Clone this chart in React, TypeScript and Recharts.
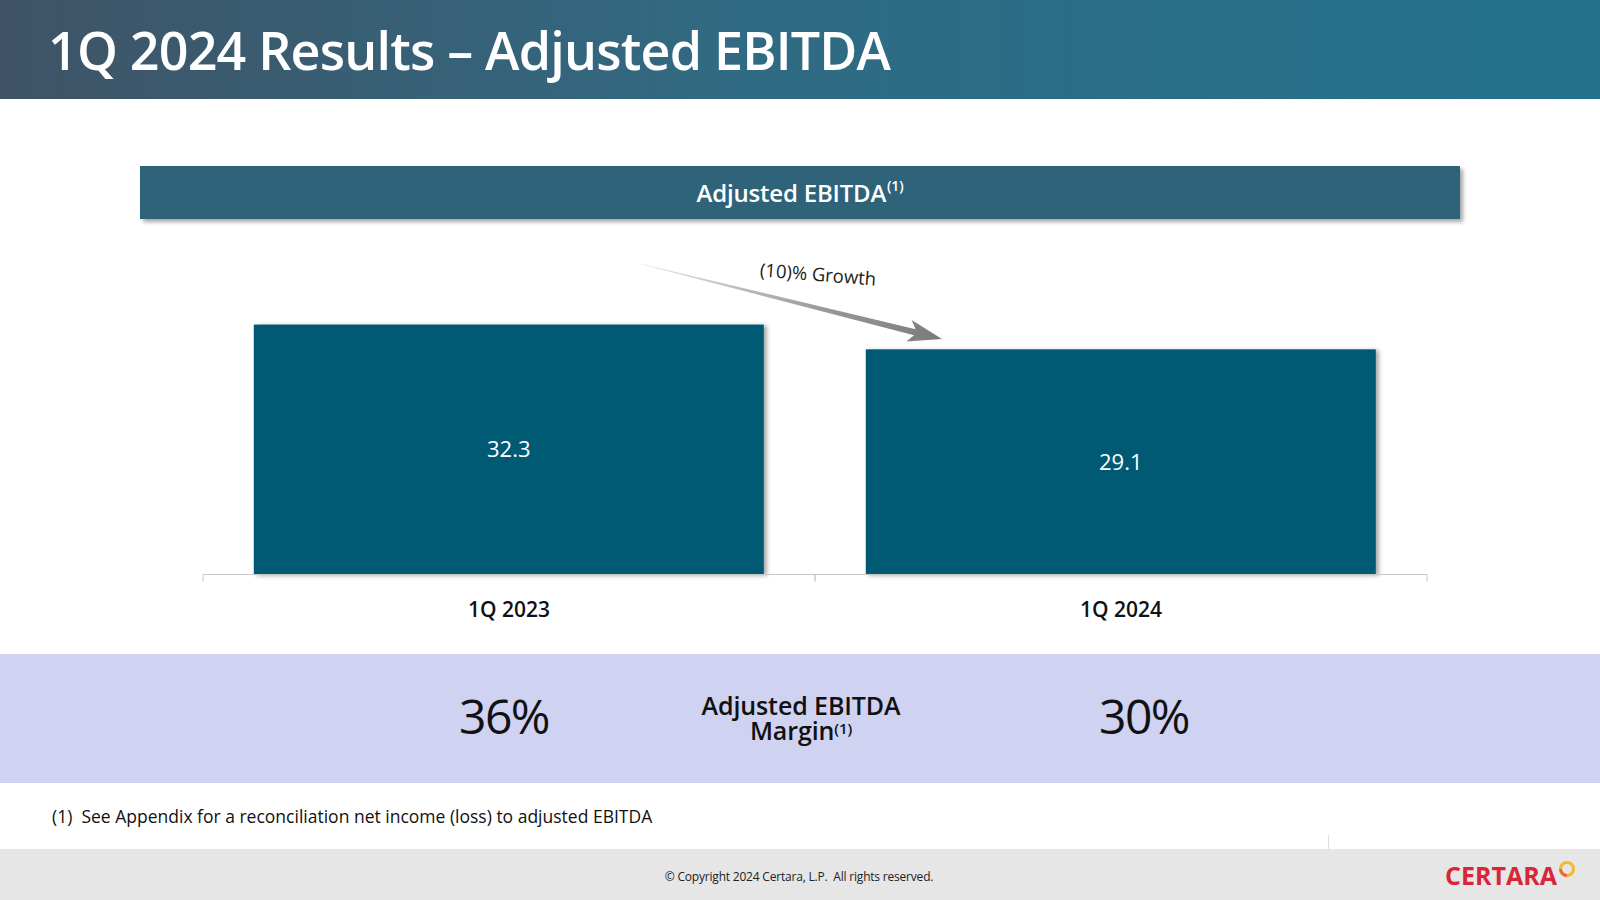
import React from 'react'
import { BarChart, Bar, XAxis, YAxis, LabelList } from 'recharts'

const CATEGORIES = ['1Q 2023', '1Q 2024']
const EBITDA = [32.3, 29.1]
const MARGINS = ['36%', '30%']

const FONT = "'Open Sans', 'Noto Sans', sans-serif"
const BAR_COLOR = '#005a74'

// plot area inside the chart svg
const CHART_W = 1600
const CHART_H = 660
const MARGIN = { top: 265, left: 203, right: 173, bottom: 25.5 }
const HALF_BAND = (CHART_W - MARGIN.left - MARGIN.right) / CATEGORIES.length / 2

const data = CATEGORIES.map((name, i) => ({ name, value: EBITDA[i] }))

const ShadowBar = (props: any) => {
  const { x, y, width, height } = props
  return (
    <rect
      x={x}
      y={y}
      width={width}
      height={height}
      fill={BAR_COLOR}
      style={{ filter: 'drop-shadow(3px 1px 2px rgba(0,0,0,0.35))' }}
    />
  )
}

const CategoryTick = (props: any) => {
  const { x, y, payload } = props
  return (
    <g>
      <line x1={x - HALF_BAND} y1={y} x2={x - HALF_BAND} y2={y + 7} stroke="#c8c8c8" />
      <line x1={x + HALF_BAND} y1={y} x2={x + HALF_BAND} y2={y + 7} stroke="#c8c8c8" />
      <text x={x} y={y + 42} textAnchor="middle" fontSize={21} fontWeight={600} fill="#111" fontFamily={FONT}>
        {payload.value}
      </text>
    </g>
  )
}

// tapered arrow from (x1,y1) to tip (x2,y2)
function arrowPoints(x1: number, y1: number, x2: number, y2: number) {
  const dx = x2 - x1
  const dy = y2 - y1
  const len = Math.sqrt(dx * dx + dy * dy)
  const ux = dx / len, uy = dy / len
  const nx = -uy, ny = ux
  const headLen = 28
  const bx = x2 - ux * headLen, by = y2 - uy * headLen
  const pts = [
    [x1 + nx * 0.3, y1 + ny * 0.3],
    [bx + nx * 3.2, by + ny * 3.2],
    [bx - ux * 6 + nx * 11, by - uy * 6 + ny * 11],
    [x2, y2],
    [bx - ux * 6 - nx * 11, by - uy * 6 - ny * 11],
    [bx - nx * 3.2, by - ny * 3.2],
    [x1 - nx * 0.3, y1 - ny * 0.3],
  ]
  return pts.map((p) => p.join(',')).join(' ')
}

export default function App() {
  return (
    <div style={{ position: 'absolute', left: 0, top: 0, width: 1600, height: 900, background: '#fff', overflow: 'hidden', fontFamily: FONT }}>
      {/* title bar */}
      <div style={{ position: 'absolute', left: 0, top: 0, width: 1600, height: 99, background: 'linear-gradient(90deg, #3f5366 0%, #316a82 45%, #22728e 100%)' }} />
      <div style={{ position: 'absolute', left: 48, top: 14, fontSize: 52, fontWeight: 600, color: '#fff', letterSpacing: -0.8, whiteSpace: 'nowrap' }}>
        1Q 2024 Results – Adjusted EBITDA
      </div>

      {/* chart header box */}
      <div style={{ position: 'absolute', left: 140, top: 166, width: 1320, height: 53, background: '#2f6379', boxShadow: '3px 3px 4px rgba(0,0,0,0.35)', display: 'flex', alignItems: 'center', justifyContent: 'center', color: '#fff', fontSize: 24, fontWeight: 600, letterSpacing: -0.2 }}>
        <span>Adjusted EBITDA<sup style={{ fontSize: 14, verticalAlign: 'top', position: 'relative', top: 0, marginLeft: 1 }}>(1)</sup></span>
      </div>

      {/* chart */}
      <div style={{ position: 'absolute', left: 0, top: 0 }}>
        <BarChart width={CHART_W} height={CHART_H} data={data} margin={MARGIN} barCategoryGap="8.3%">
          <XAxis
            dataKey="name"
            height={60}
            axisLine={{ stroke: '#c8c8c8' }}
            tickLine={false}
            tickSize={0}
            tickMargin={0}
            tick={<CategoryTick />}
            interval={0}
          />
          <YAxis hide domain={[0, 40]} />
          <Bar dataKey="value" isAnimationActive={false} shape={<ShadowBar />}>
            <LabelList dataKey="value" position="center" fill="#fff" fontSize={22} fontFamily={FONT} formatter={(v: any) => Number(v).toFixed(1)} />
          </Bar>
        </BarChart>
      </div>

      {/* growth arrow */}
      <svg width={1600} height={900} style={{ position: 'absolute', left: 0, top: 0, pointerEvents: 'none' }}>
        <defs>
          <linearGradient id="arrowGrad" gradientUnits="userSpaceOnUse" x1={641} y1={264} x2={942} y2={339}>
            <stop offset="0%" stopColor="#e6e6e6" />
            <stop offset="60%" stopColor="#9a9a9a" />
            <stop offset="100%" stopColor="#7a7a7a" />
          </linearGradient>
        </defs>
        <polygon points={arrowPoints(641, 264, 942, 339)} fill="url(#arrowGrad)" />
        <text x={818} y={281} textAnchor="middle" fontSize={18.5} fontWeight={500} fill="#222" fontFamily={FONT} transform="rotate(4.5 818 275)">
          (10)% Growth
        </text>
      </svg>

      {/* margin band */}
      <div style={{ position: 'absolute', left: 0, top: 654, width: 1600, height: 129, background: '#cfd2f0' }} />
      <div style={{ position: 'absolute', left: 504, top: 715, transform: 'translate(-50%, -50%)', fontSize: 48, color: '#111', letterSpacing: -1.5 }}>{MARGINS[0]}</div>
      <div style={{ position: 'absolute', left: 1144, top: 715, transform: 'translate(-50%, -50%)', fontSize: 48, color: '#111', letterSpacing: -1.5 }}>{MARGINS[1]}</div>
      <div style={{ position: 'absolute', left: 801, top: 718, transform: 'translate(-50%, -50%)', fontSize: 25, fontWeight: 600, color: '#111', textAlign: 'center', lineHeight: '25px', letterSpacing: -0.1, whiteSpace: 'nowrap' }}>
        Adjusted EBITDA<br />
        Margin<sup style={{ fontSize: 15, verticalAlign: 'top', position: 'relative', top: -2 }}>(1)</sup>
      </div>

      {/* footnote */}
      <div style={{ position: 'absolute', left: 52, top: 804, fontSize: 17.5, color: '#111', whiteSpace: 'pre' }}>
        (1)  See Appendix for a reconciliation net income (loss) to adjusted EBITDA
      </div>

      {/* footer */}
      <div style={{ position: 'absolute', left: 1328, top: 835, width: 1, height: 14, background: '#e0e0e0' }} />
      <div style={{ position: 'absolute', left: 0, top: 849, width: 1600, height: 51, background: '#e6e6e6' }} />
      <div style={{ position: 'absolute', left: 799, top: 876, transform: 'translate(-50%, -50%)', fontSize: 12, color: '#222', whiteSpace: 'pre', letterSpacing: -0.2 }}>
        © Copyright 2024 Certara, L.P.  All rights reserved.
      </div>
      <div style={{ position: 'absolute', left: 1445, top: 861, fontSize: 25, fontWeight: 700, color: '#d72638', letterSpacing: 0, lineHeight: '28px' }}>
        CERTARA
      </div>
      <svg width={30} height={30} style={{ position: 'absolute', left: 1553, top: 856 }}>
        <circle cx={14} cy={13} r={6.5} fill="none" stroke="#f5b82e" strokeWidth={3} />
        <path d="M 7.5 13 A 6.5 6.5 0 0 0 14 19.5" fill="none" stroke="#ec6a2c" strokeWidth={3} />
      </svg>
    </div>
  )
}
